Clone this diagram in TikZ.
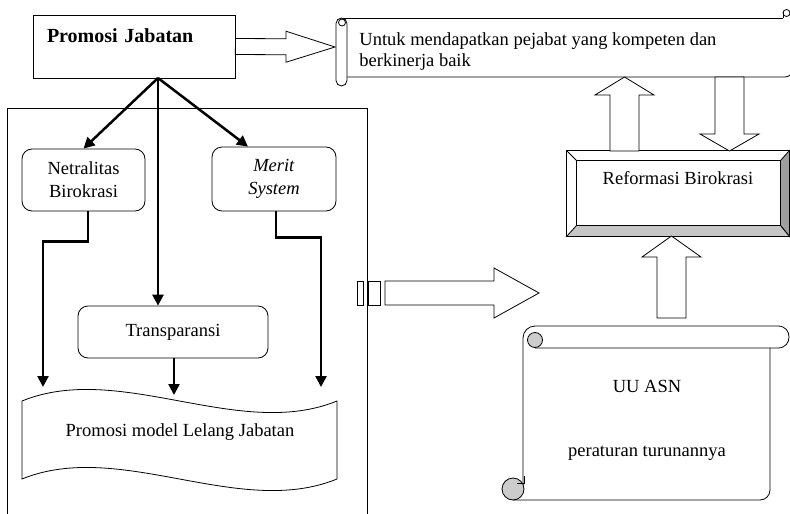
\documentclass[tikz,border=0pt]{standalone}
\usepackage{fontspec}
\setmainfont{Liberation Serif}
\usetikzlibrary{arrows.meta}
\usetikzlibrary{calc}
\usetikzlibrary{positioning}

\tikzset{
  every node/.style={font=\fontsize{18.5}{23}\selectfont},
  box/.style={draw, rounded corners=10pt, align=center},
  flow/.style={line width=2.5pt, -{Triangle[length=11pt,width=11pt]}},
  hollow/.style={draw, fill=white, line width=0.8pt},
}

% hollow block arrow: from, to, half shaft, half head, head length
\newcommand{\blockarrow}[5]{%
  \path ($(#2)!#5!(#1)$) coordinate (ba-h);
  \draw[hollow] ($(#1)!#3!90:(#2)$) -- ($(ba-h)!#3!90:(#2)$) -- ($(ba-h)!#4!90:(#2)$) -- (#2)
    -- ($(ba-h)!#4!-90:(#2)$) -- ($(ba-h)!#3!-90:(#2)$) -- ($(#1)!#3!-90:(#2)$) -- cycle;
}

\begin{document}
\begin{tikzpicture}[x=1pt, y=-1pt, line width=0.8pt]
        \useasboundingbox (0,0) rectangle (790,514);
        % left panel
        \draw (7,108) rectangle (367,530);

        \node[draw, font=\fontsize{20}{24}\selectfont\bfseries, text width=174pt, align=left, inner xsep=14pt, minimum height=63pt, text height=13pt, text depth=22pt] (pj) at (134,46.5) {Promosi Jabatan};
        \node[box, minimum width=123pt, minimum height=62pt] (net) at (83.5,180) {Netralitas\\Birokrasi};
        \node[box, minimum width=124pt, minimum height=64pt] (merit) at (274,179) {\textit{Merit}\\\textit{System}};
        \node[box, minimum width=190pt, minimum height=52pt] (trans) at (173,332) {Transparansi};

        % wave
        \draw (22,401) .. controls (120,361) and (239,441) .. (337,401) -- (337,479)
              .. controls (239,519) and (120,439) .. (22,479) -- cycle;
        \node (lelang) at (180,432) {Promosi model Lelang Jabatan};

        \coordinate (apex) at (158,78);
        \coordinate (netin) at (43,387);
        \coordinate (transin) at (174,395);
        \coordinate (meritin) at (321,387);
        \draw[flow] (apex) -- (net.north);
        \draw[flow] (apex) -- ([xshift=-26pt]merit.north);
        \draw[flow] (apex) -- (apex |- trans.north);
        \draw[flow] ([xshift=4.5pt]net.south) -- ++(0,30) -| (netin);
        \draw[flow] ([xshift=2pt]merit.south) -- ++(0,26) -| (meritin);
        \draw[flow] ([xshift=1pt]trans.south) -- (transin);

        % goal scroll
        \coordinate (goaltip) at (335,47);
        \blockarrow{pj.east}{goaltip}{8pt}{15.5pt}{49pt}
        \draw (340,18) -- (783,18);
        \draw (347,77) -- (785,77) .. controls (788,77) and (789,76) .. (791,74);
        \draw (783,18) -- (783,12);
        \draw (786.5,13) circle (3.5pt);
        \draw[fill=white, rounded corners=5.5pt] (336,18) rectangle (347,86);
        \draw (342,22.5) circle (3.5pt);
        \node[align=left, anchor=north west, inner sep=0pt, font=\fontsize{18.5}{21}\selectfont] (tujuan) at (359,32) {Untuk mendapatkan pejabat yang kompeten dan\\berkinerja baik};

        % reformasi
        \node[minimum width=222pt, minimum height=85pt, text height=12.6pt, text depth=31.6pt] (reformasi) at (678,193.5) {Reformasi Birokrasi};
        \coordinate (rin-nw) at ($(reformasi.north west)+(10,10)$);
        \coordinate (rin-se) at ($(reformasi.south east)+(-9,-11)$);
        \filldraw[fill=gray!75] (rin-se) -- (rin-se |- rin-nw) -- (reformasi.north east) -- (reformasi.south east) -- cycle;
        \filldraw[fill=gray!45] (rin-se) -- (reformasi.south east) -- (reformasi.south west) -- (rin-nw |- rin-se) -- cycle;
        \draw (reformasi.north west) -- (rin-nw);
        \draw (rin-nw) rectangle (rin-se);
        \draw (reformasi.north west) rectangle (reformasi.south east);

        \coordinate (upfoot) at (624.5,151);
        \coordinate (uptip) at (624.5,77);
        \coordinate (downfoot) at (729.5,77);
        \coordinate (downtip) at (729.5,151);
        \coordinate (asnfoot) at (671.5,318);
        \coordinate (asntip) at (671.5,236);
        \blockarrow{upfoot}{uptip}{14.5pt}{29.5pt}{18pt}
        \blockarrow{downfoot}{downtip}{14.5pt}{29.5pt}{17pt}
        \blockarrow{asnfoot}{asntip}{14.5pt}{29.5pt}{21pt}

        % striped arrow
        \draw[hollow] (357,281) rectangle (363,305);
        \draw[hollow] (368,281) rectangle (380,305);
        \coordinate (midfoot) at (385,293);
        \coordinate (midtip) at (539,293);
        \blockarrow{midfoot}{midtip}{12pt}{25pt}{45pt}

        % UU ASN scroll
        \draw (535,326) -- (778,326) .. controls (792.7,326) and (792.7,348) .. (778,348) -- (535,348);
        \draw (535,326) .. controls (528.4,326) and (523,331.4) .. (523,338) -- (523,489);
        \draw[rounded corners=10pt] (770,348) -- (770,500) -- (513,500);
        \filldraw[fill=gray!40] (535,340) circle (7.5pt);
        \filldraw[fill=gray!40] (513,489) circle (11pt);
        \draw (524,476) -- (524,483) -- (517,483);
        \node[align=center] (asn) at (647,420) {UU ASN\\[41pt]peraturan turunannya};
    \end{tikzpicture}
\end{document}
